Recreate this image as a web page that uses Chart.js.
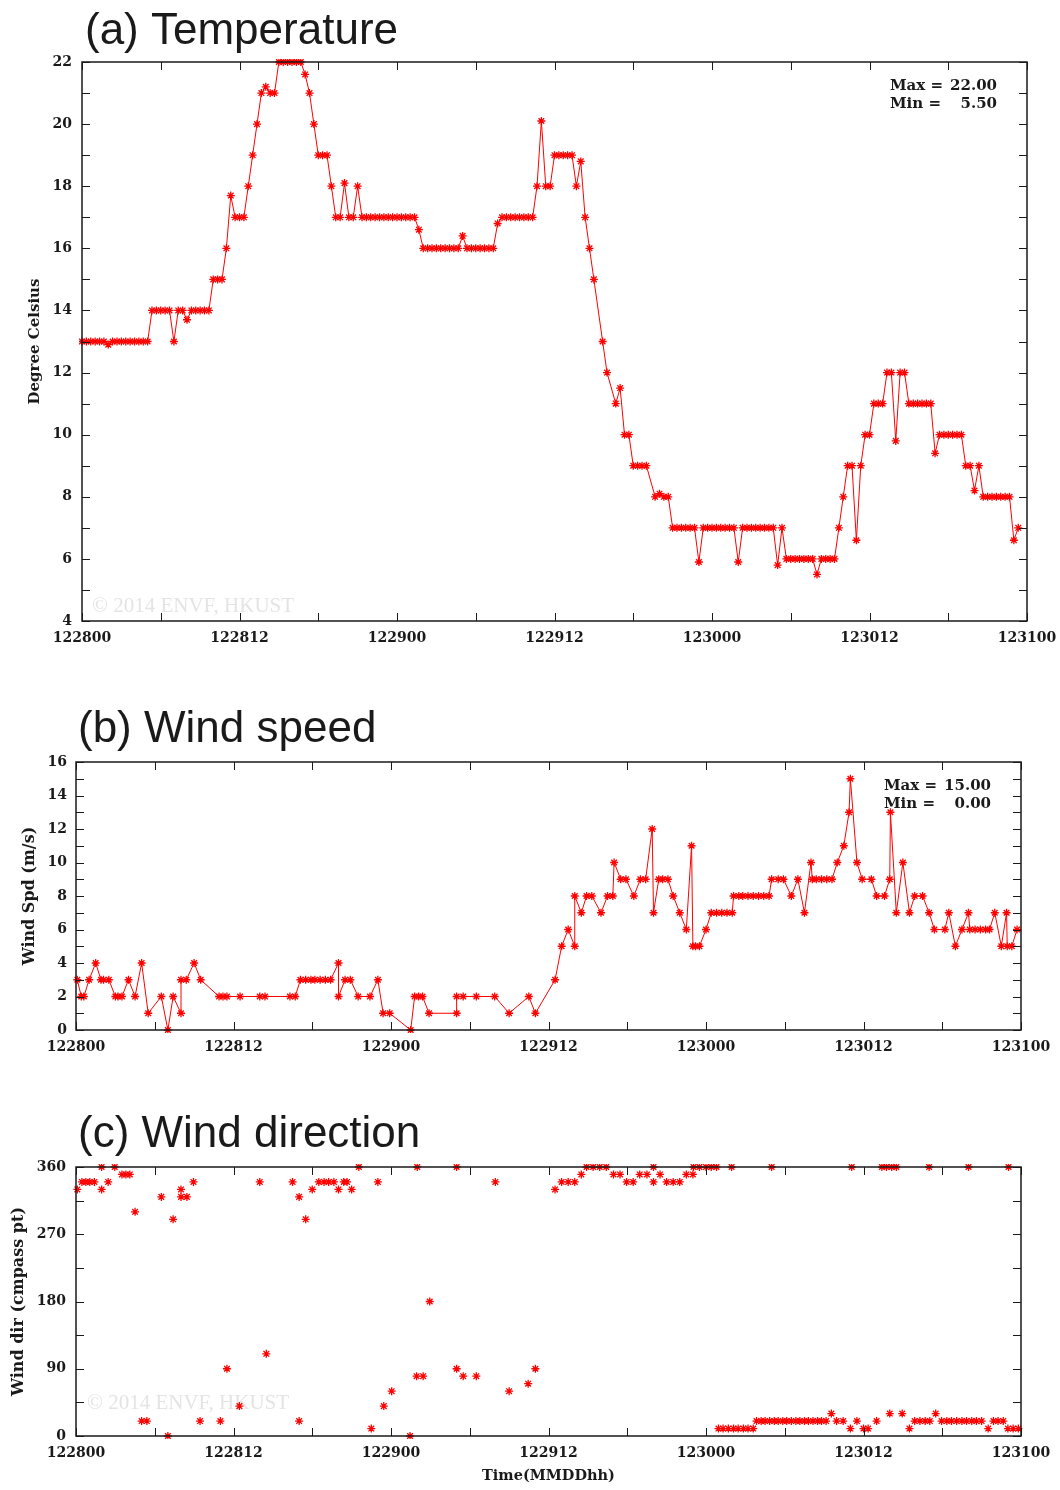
<!DOCTYPE html>
<html>
<head>
<meta charset="utf-8">
<title>Temperature, wind speed and wind direction, 28-31 Dec</title>
<script src="https://cdn.jsdelivr.net/npm/chart.js@4.4.1/dist/chart.umd.min.js"></script>
<style>
  body { margin: 0; background: #fff; }
  #page { position: relative; width: 1060px; height: 1490px; }
  canvas { position: absolute; left: 0; }
</style>
</head>
<body>
<div id="page">
  <canvas id="tempChart" width="1060" height="660" style="top:0px"></canvas>
  <canvas id="speedChart" width="1060" height="395" style="top:680px"></canvas>
  <canvas id="dirChart" width="1060" height="405" style="top:1085px"></canvas>
</div>
<script>
// time axis is hours since 28 Dec 00h, labelled MMDDhh every 12 h
var xTickLabels = ['122800', '122812', '122900', '122912', '123000', '123012', '123100'];

// (a) temperature, one reading every 20 minutes (null = no marker)
var tempStepHours = 1 / 3;
var tempValues = [
  13, 13, 13,     13, 13, 13,     12.9, 13, 13,   13, 13, 13,     // 00-03h
  13, 13, 13,     13, 14, 14,     14, 14, 14,     13, 14, 14,     // 04-07h
  13.7, 14, 14,   14, 14, 14,     15, 15, 15,     16, 17.7, 17,   // 08-11h
  17, 17, 18,     19, 20, 21,     21.2, 21, 21,   22, 22, 22,     // 12-15h
  22, 22, 22,     21.6, 21, 20,   19, 19, 19,     18, 17, 17,     // 16-19h
  18.1, 17, 17,   18, 17, 17,     17, 17, 17,     17, 17, 17,     // 20-23h
  17, 17, 17,     17, 17, 16.6,   16, 16, 16,     16, 16, 16,     // 24-27h
  16, 16, 16,     16.4, 16, 16,   16, 16, 16,     16, 16, 16.8,   // 28-31h
  17, 17, 17,     17, 17, 17,     17, 17, 18,     20.1, 18, 18,   // 32-35h
  19, 19, 19,     19, 19, 18,     18.8, 17, 16,   15, null, 13,   // 36-39h
  12, null, 11,   11.5, 10, 10,   9, 9, 9,        9, null, 8,     // 40-43h
  8.1, 8, 8,      7, 7, 7,        7, 7, 7,        5.9, 7, 7,      // 44-47h
  7, 7, 7,        7, 7, 7,        5.9, 7, 7,      7, 7, 7,        // 48-51h
  7, 7, 7,        5.8, 7, 6,      6, 6, 6,        6, 6, 6,        // 52-55h
  5.5, 6, 6,      6, 6, 7,        8, 9, 9,        6.6, 9, 10,     // 56-59h
  10, 11, 11,     11, 12, 12,     9.8, 12, 12,    11, 11, 11,     // 60-63h
  11, 11, 11,     9.4, 10, 10,    10, 10, 10,     10, 9, 9,       // 64-67h
  8.2, 9, 8,      8, 8, 8,        8, 8, 8,        6.6, 7          // 68-71h
];

// (b) wind speed, [hour, m/s]
var windSpeed = [
  [0.1, 3], [0.4, 2], [0.6, 2], [1.0, 3], [1.5, 4], [1.9, 3], [2.1, 3], [2.5, 3],
  [3.0, 2], [3.2, 2], [3.5, 2], [4.0, 3], [4.5, 2], [5.0, 4], [5.5, 1], [6.5, 2],
  [7.0, 0], [7.4, 2], [8.0, 1], [8.0, 3], [8.4, 3], [9.0, 4], [9.5, 3], [10.9, 2],
  [11.2, 2], [11.5, 2], [12.5, 2], [14.0, 2], [14.4, 2], [16.3, 2], [16.7, 2], [17.1, 3],
  [17.5, 3], [17.9, 3], [18.2, 3], [18.6, 3], [19.0, 3], [19.4, 3], [20.0, 4], [20.0, 2],
  [20.5, 3], [20.9, 3], [21.5, 2], [22.4, 2], [23.0, 3], [23.4, 1], [23.9, 1], [25.5, 0],
  [25.8, 2], [26.1, 2], [26.4, 2], [26.9, 1], [29.0, 1], [29.0, 2], [29.5, 2], [30.5, 2],
  [31.9, 2], [33.0, 1], [34.5, 2], [35.0, 1], [36.5, 3], [37.0, 5], [37.5, 6], [38.0, 5],
  [38.0, 8], [38.5, 7], [38.9, 8], [39.3, 8], [40.0, 7], [40.5, 8], [40.9, 8], [41.0, 10],
  [41.5, 9], [41.9, 9], [42.5, 8], [43.0, 9], [43.4, 9], [43.9, 12], [44.0, 7], [44.4, 9],
  [44.7, 9], [45.1, 9], [45.5, 8], [46.0, 7], [46.5, 6], [46.9, 11], [47.0, 5], [47.2, 5],
  [47.5, 5], [48.0, 6], [48.4, 7], [48.8, 7], [49.2, 7], [49.6, 7], [50.0, 7], [50.1, 8],
  [50.5, 8], [50.8, 8], [51.2, 8], [51.6, 8], [52.0, 8], [52.4, 8], [52.8, 8], [53.0, 9],
  [53.5, 9], [53.9, 9], [54.5, 8], [55.0, 9], [55.5, 7], [56.0, 10], [56.1, 9], [56.4, 9],
  [56.8, 9], [57.2, 9], [57.6, 9], [58.0, 10], [58.5, 11], [58.9, 13], [59.0, 15], [59.5, 10],
  [59.9, 9], [60.6, 9], [61.0, 8], [61.6, 8], [62.0, 9], [62.05, 13], [62.5, 7], [63.0, 10],
  [63.5, 7], [63.9, 8], [64.5, 8], [65.0, 7], [65.4, 6], [66.2, 6], [66.5, 7], [67.0, 5],
  [67.5, 6], [68.0, 7], [68.1, 6], [68.5, 6], [68.9, 6], [69.3, 6], [69.6, 6], [70.0, 7],
  [70.5, 5], [70.9, 7], [70.95, 5], [71.3, 5], [71.7, 6]
];

// (c) wind direction, [hour, degrees]
var windDir = [
  [0.1, 330], [0.45, 340], [0.75, 340], [1.05, 340], [1.4, 340], [1.95, 360], [1.95, 330],
  [2.45, 340], [2.95, 360], [3.5, 350], [3.8, 350], [4.1, 350], [4.5, 300], [5.0, 20],
  [5.4, 20], [6.5, 320], [7.0, 0], [7.4, 290], [8.0, 330], [8.0, 320], [8.45, 320],
  [8.95, 340], [9.45, 20], [11.0, 20], [11.5, 90], [12.45, 40], [14.0, 340], [14.5, 110],
  [16.5, 340], [17.0, 320], [17.0, 20], [17.5, 290], [18.0, 330], [18.5, 340], [18.9, 340],
  [19.25, 340], [19.65, 340], [20.0, 330], [20.4, 340], [20.65, 340], [21.0, 330], [21.55, 360],
  [22.5, 10], [23.0, 340], [23.45, 40], [24.05, 60], [25.45, 0], [25.95, 80], [26.0, 360],
  [26.45, 80], [26.95, 180], [29.0, 360], [29.0, 90], [29.5, 80], [30.5, 80], [31.95, 340],
  [33.0, 60], [34.45, 70], [35.0, 90], [36.5, 330], [37.0, 340], [37.5, 340], [38.0, 340],
  [38.5, 350], [38.9, 360], [39.4, 360], [39.9, 360], [40.4, 360], [40.95, 350], [41.45, 350],
  [41.95, 340], [42.45, 340], [42.95, 350], [43.5, 350], [44.0, 360], [44.0, 340], [44.5, 350],
  [45.0, 340], [45.5, 340], [46.0, 340], [46.5, 350], [47.0, 350], [47.05, 360], [47.5, 360],
  [48.0, 360], [48.4, 360], [48.8, 360], [48.95, 10], [49.3, 10], [49.7, 10], [49.95, 360],
  [50.1, 10], [50.45, 10], [50.85, 10], [51.2, 10], [51.6, 10], [51.85, 20], [52.2, 20],
  [52.5, 20], [52.85, 20], [53.0, 360], [53.2, 20], [53.5, 20], [53.85, 20], [54.15, 20],
  [54.5, 20], [54.85, 20], [55.15, 20], [55.5, 20], [55.8, 20], [56.15, 20], [56.5, 20],
  [56.8, 20], [57.15, 20], [57.55, 30], [57.95, 20], [58.45, 20], [59.0, 10], [59.1, 360],
  [59.5, 20], [60.0, 10], [60.35, 10], [61.0, 20], [61.4, 360], [61.75, 360], [62.0, 30],
  [62.15, 360], [62.5, 360], [62.95, 30], [63.5, 10], [63.9, 20], [64.3, 20], [64.7, 20],
  [65.0, 360], [65.05, 20], [65.5, 30], [65.95, 20], [66.35, 20], [66.7, 20], [67.1, 20],
  [67.5, 20], [67.85, 20], [68.0, 360], [68.25, 20], [68.6, 20], [69.0, 20], [69.5, 10],
  [69.9, 20], [70.25, 20], [70.65, 20], [71.0, 10], [71.05, 360], [71.4, 10], [71.8, 10]
];

var RED = 'rgb(255,0,0)';
var INK = '#1a1a1a';
var TICK_FONT = { family: 'DejaVu Serif', size: 14, weight: 'bold' };

// frame, inward ticks on all four sides, panel title, max/min box, watermark
var panelDecor = {
  id: 'panelDecor',
  beforeDatasetsDraw: function (chart, args, o) {
    if (!o.watermark) return;
    var ctx = chart.ctx;
    ctx.save();
    ctx.fillStyle = '#e4e4e4';
    ctx.font = '21px "Liberation Serif"';
    ctx.fillText('\u00a9 2014 ENVF, HKUST', o.wmX, o.wmY);
    ctx.restore();
  },
  afterDatasetsDraw: function (chart, args, o) {
    var ctx = chart.ctx, a = chart.chartArea, x = chart.scales.x, y = chart.scales.y;
    var v, p;
    ctx.save();
    ctx.strokeStyle = INK;
    ctx.lineWidth = 1;
    ctx.beginPath();
    for (v = x.min; v <= x.max; v += o.xMinor) {
      p = Math.round(x.getPixelForValue(v)) + 0.5;
      ctx.moveTo(p, a.bottom); ctx.lineTo(p, a.bottom - 8);
      ctx.moveTo(p, a.top); ctx.lineTo(p, a.top + 8);
    }
    for (v = y.min; v <= y.max; v += o.yMinor) {
      p = Math.round(y.getPixelForValue(v)) + 0.5;
      ctx.moveTo(a.left, p); ctx.lineTo(a.left + 8, p);
      ctx.moveTo(a.right, p); ctx.lineTo(a.right - 8, p);
    }
    ctx.stroke();
    ctx.lineWidth = 1.5;
    ctx.strokeRect(a.left, a.top, a.right - a.left, a.bottom - a.top);

    ctx.fillStyle = INK;
    ctx.textBaseline = 'alphabetic';
    ctx.font = '44px "Liberation Sans"';
    ctx.textAlign = 'left';
    ctx.fillText(o.title, o.titleX, o.titleY);

    if (o.maxText) {
      ctx.font = 'bold 15px "DejaVu Serif"';
      ctx.textAlign = 'left';
      ctx.fillText('Max =', a.right - 137, a.top + 28);
      ctx.fillText('Min =', a.right - 137, a.top + 46);
      ctx.textAlign = 'right';
      ctx.fillText(o.maxText, a.right - 30, a.top + 28);
      ctx.fillText(o.minText, a.right - 30, a.top + 46);
    }
    ctx.restore();
  }
};

function panel(id, o) {
  return new Chart(document.getElementById(id), {
    type: 'scatter',
    data: {
      datasets: [{
        data: o.data,
        showLine: o.showLine,
        borderColor: RED,
        borderWidth: 1,
        pointStyle: 'star',
        pointRadius: 4,
        pointBorderColor: RED,
        pointBackgroundColor: RED,
        pointBorderWidth: 1.3,
        clip: 3
      }]
    },
    options: {
      responsive: false,
      animation: false,
      devicePixelRatio: 1,
      layout: { padding: o.padding },
      plugins: {
        legend: { display: false },
        tooltip: { enabled: false },
        panelDecor: o.decor
      },
      scales: {
        x: {
          type: 'linear', min: 0, max: 72,
          grid: { display: false, drawTicks: false }, border: { display: false },
          afterFit: function (s) {
            s.height = o.xHeight;
            s.paddingLeft = 0;
            s.paddingRight = 0;
          },
          ticks: {
            stepSize: 12, autoSkip: false, maxRotation: 0, padding: 9,
            color: INK, font: TICK_FONT,
            callback: function (v) { return xTickLabels[Math.round(v / 12)]; }
          },
          title: {
            display: !!o.xTitle, text: o.xTitle || '', color: INK,
            font: { family: 'DejaVu Serif', size: 14.5, weight: 'bold' },
            padding: { top: 0, bottom: 5 }
          }
        },
        y: {
          min: o.yMin, max: o.yMax,
          grid: { display: false, drawTicks: false }, border: { display: false },
          afterFit: function (s) {
            s.width = o.yWidth;
            s.paddingTop = 0;
            s.paddingBottom = 0;
          },
          ticks: { stepSize: o.yStep, padding: o.yPad, color: INK, font: TICK_FONT },
          title: {
            display: true, text: o.yTitle, color: INK,
            font: { family: 'DejaVu Serif', size: o.yTitleSize, weight: 'bold' },
            padding: { top: o.yTitlePad, bottom: 0 }
          }
        }
      }
    },
    plugins: [panelDecor]
  });
}

var tempPoints = tempValues
  .map(function (v, i) { return { x: i * tempStepHours, y: v }; })
  .filter(function (p) { return p.y !== null; });
var tempKnown = tempValues.filter(function (v) { return v !== null; });
var speedOnly = windSpeed.map(function (p) { return p[1]; });

function toXY(pairs) {
  return pairs.map(function (p) { return { x: p[0], y: p[1] }; });
}

panel('tempChart', {
  data: tempPoints, showLine: true,
  padding: { top: 62, right: 33, bottom: 0, left: 0 },
  xHeight: 39, yWidth: 82, yPad: 10,
  yMin: 4, yMax: 22, yStep: 2,
  yTitle: 'Degree Celsius', yTitleSize: 15, yTitlePad: 26,
  decor: {
    title: '(a) Temperature', titleX: 85, titleY: 44,
    xMinor: 6, yMinor: 1,
    maxText: Math.max.apply(null, tempKnown).toFixed(2),
    minText: Math.min.apply(null, tempKnown).toFixed(2),
    watermark: true, wmX: 92, wmY: 612
  }
});

panel('speedChart', {
  data: toXY(windSpeed), showLine: true,
  padding: { top: 82, right: 39, bottom: 0, left: 0 },
  xHeight: 45, yWidth: 76, yPad: 9,
  yMin: 0, yMax: 16, yStep: 2,
  yTitle: 'Wind Spd (m/s)', yTitleSize: 16, yTitlePad: 20,
  decor: {
    title: '(b) Wind speed', titleX: 78, titleY: 62,
    xMinor: 6, yMinor: 1,
    maxText: Math.max.apply(null, speedOnly).toFixed(2),
    minText: Math.min.apply(null, speedOnly).toFixed(2),
    watermark: false
  }
});

panel('dirChart', {
  data: toXY(windDir), showLine: false,
  padding: { top: 82, right: 39, bottom: 0, left: 0 },
  xHeight: 54, yWidth: 76, yPad: 10,
  yMin: 0, yMax: 360, yStep: 90,
  yTitle: 'Wind dir (cmpass pt)', yTitleSize: 16, yTitlePad: 9,
  xTitle: 'Time(MMDDhh)',
  decor: {
    title: '(c) Wind direction', titleX: 78, titleY: 62,
    xMinor: 6, yMinor: 45,
    watermark: true, wmX: 87, wmY: 324
  }
});
</script>
</body>
</html>
